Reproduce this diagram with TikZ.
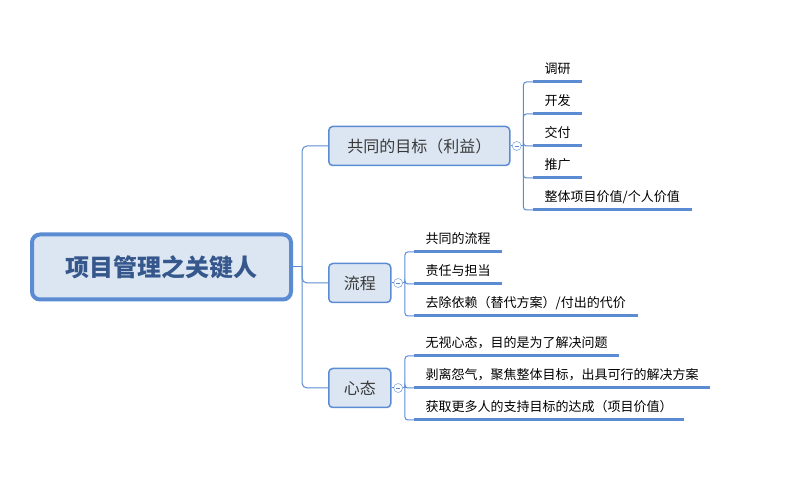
\documentclass[tikz,border=0pt]{standalone}
\usepackage{fontspec}
\setmainfont{Noto Sans CJK SC}
\usetikzlibrary{positioning}
\definecolor{linec}{HTML}{5B8CD3}
\definecolor{boxfill}{HTML}{DCE6F2}
\definecolor{roottext}{HTML}{35578C}
\definecolor{branchtext}{HTML}{3A3A3A}
\tikzset{
  rootbox/.style = {draw=linec, fill=boxfill, line width=4pt, rounded corners=8pt, minimum width=259pt, minimum height=65pt, text=roottext, font=\fontsize{24}{28}\selectfont\bfseries},
  branch/.style = {draw=linec, fill=boxfill, line width=1.5pt, rounded corners=4pt, minimum height=39pt, inner xsep=15pt, text=branchtext, font=\fontsize{16}{19}\selectfont, anchor=west},
  fold/.style = {circle, draw=linec, fill=white, thin, minimum size=9pt, inner sep=0pt, path picture={\draw[linec, thin] ([xshift=2.5pt]path picture bounding box.west) -- ([xshift=-2.5pt]path picture bounding box.east);}},
  leaf/.style = {anchor=south west, inner xsep=11.5pt, inner ysep=6pt, text height=11pt, text depth=2pt, font=\fontsize{13}{15}\selectfont, append after command={(\tikzlastnode.south west) edge[draw=linec, line width=3pt] (\tikzlastnode.south east)}},
  conn/.style = {draw=linec, line width=1pt, rounded corners=5pt}
}
\begin{document}
\begin{tikzpicture}[x=1pt, y=-1pt]
  \useasboundingbox (0,0) rectangle (804,486);
  \node[rootbox] (root) at (161.5,267) {项目管理之关键人};
  \node[branch, minimum width=181pt] (b1) at (328,146) {共同的目标（利益）};
  \node[branch] (b2) at (328,283) {流程};
  \node[branch] (b3) at (328,388) {心态};
  \node[fold, right=1.5pt of b1] (c1) {};
  \node[fold, right=2pt of b2] (c2) {};
  \node[fold, right=2pt of b3] (c3) {};
  \coordinate[right=2pt of c1.east] (f1);
  \coordinate[right=2pt of c2.east] (f2);
  \coordinate[right=2pt of c3.east] (f3);
  \coordinate[right=9pt of root.east] (trunk);

  \node[leaf] (l11) at (533,82) {调研};
  \node[leaf] (l12) at (533,114) {开发};
  \node[leaf] (l13) at (533,146) {交付};
  \node[leaf] (l14) at (533,178) {推广};
  \node[leaf] (l15) at (533,210) {整体项目价值/个人价值};

  \node[leaf] (l21) at (414,252) {共同的流程};
  \node[leaf] (l22) at (414,284) {责任与担当};
  \node[leaf] (l23) at (414,316) {去除依赖（替代方案）/付出的代价};

  \node[leaf] (l31) at (414,356) {无视心态，目的是为了解决问题};
  \node[leaf] (l32) at (414,388) {剥离怨气，聚焦整体目标，出具可行的解决方案};
  \node[leaf] (l33) at (414,420) {获取更多人的支持目标的达成（项目价值）};

  \draw[conn] (root.east) -- (trunk);
  \draw[conn] (trunk) |- (b1.west);
  \draw[conn] (trunk) |- (b2.west);
  \draw[conn] (trunk) |- (b3.west);

  \draw[conn] (b1.east) -- (c1.west);
  \draw[conn] (b2.east) -- (c2.west);
  \draw[conn] (b3.east) -- (c3.west);
  \draw[conn] (c1.east) -- (f1);
  \draw[conn] (c2.east) -- (f2);
  \draw[conn] (c3.east) -- (f3);

  \foreach \i in {1,...,5}
    \draw[conn, rounded corners=3pt] (f1) |- (l1\i.south west);
  \foreach \i in {1,2,3}
    \draw[conn, rounded corners=3pt] (f2) |- (l2\i.south west);
  \foreach \i in {1,2,3}
    \draw[conn, rounded corners=3pt] (f3) |- (l3\i.south west);
\end{tikzpicture}
\end{document}
